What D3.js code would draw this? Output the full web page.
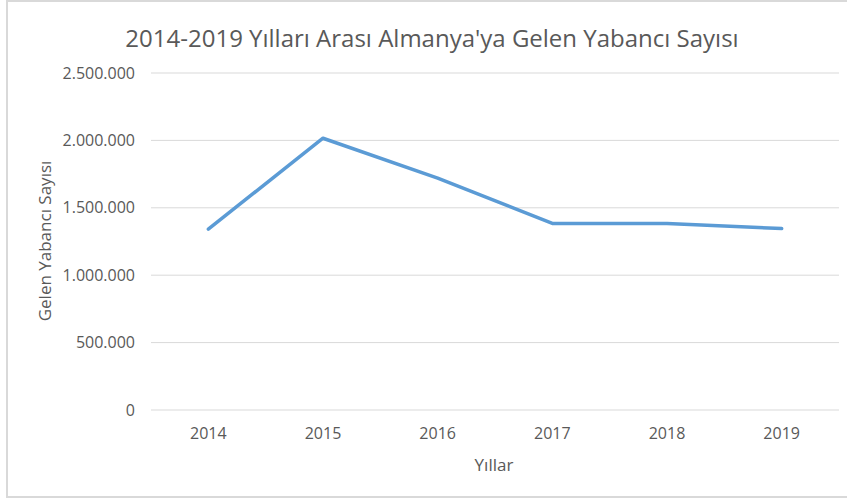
<!DOCTYPE html>
<head>
<meta charset="utf-8">
<style>
body{
    margin:0;
    background:#fff;
}
text{
    font-family:"Open Sans", sans-serif;
    fill:#595959;
}
</style>
<title>2014-2019 Yılları Arası Almanya'ya Gelen Yabancı Sayısı</title>
</head>

<body>
<svg width="847" height="502"></svg>
<script src="https://d3js.org/d3.v7.min.js"></script>
<script>
// data
var years = ['2014','2015','2016','2017','2018','2019'];
var arrivals = [1342000, 2016000, 1720000, 1384000, 1384000, 1346000];
var yTicks = [0, 500000, 1000000, 1500000, 2000000, 2500000];

var svg = d3.select("svg");
var m = {t:73, r:8, b:92, l:151};
var W = 847, H = 502;

// chart frame (left, top, bottom edges visible)
svg.append("rect").attr("x",7).attr("y",1).attr("width",W+10).attr("height",496)
    .attr("fill","none").attr("stroke","#d9d9d9").attr("stroke-width",2);

var x = d3.scaleBand().domain(years).range([m.l, W - m.r]);
var y = d3.scaleLinear().domain([0, 2500000]).range([H - m.b, m.t]);

var fmt = function(d){ return d3.format(",")(d).replace(/,/g, "."); };

// gridlines
svg.append("g").selectAll("line").data(yTicks).enter().append("line")
    .attr("x1", m.l).attr("x2", W - m.r)
    .attr("y1", function(d){ return y(d); }).attr("y2", function(d){ return y(d); })
    .attr("stroke", "#d9d9d9").attr("stroke-width", 1);

// y tick labels
svg.append("g").selectAll("text").data(yTicks).enter().append("text")
    .attr("x", 135).attr("y", function(d){ return y(d); })
    .attr("dy", "0.35em").attr("text-anchor", "end")
    .style("font-size", "16px")
    .text(fmt);

// x tick labels
svg.append("g").selectAll("text").data(years).enter().append("text")
    .attr("x", function(d){ return x(d) + x.bandwidth()/2; })
    .attr("y", 439).attr("text-anchor", "middle")
    .style("font-size", "16px")
    .text(function(d){ return d; });

// line
var line = d3.line()
    .x(function(d, i){ return x(years[i]) + x.bandwidth()/2; })
    .y(function(d){ return y(d); });

svg.append("path").datum(arrivals)
    .attr("d", line).attr("fill", "none")
    .attr("stroke", "#5b9bd5").attr("stroke-width", 3.5)
    .attr("stroke-linejoin", "round").attr("stroke-linecap", "round");

// titles
svg.append("text").attr("x", 432).attr("y", 47).attr("text-anchor", "middle")
    .style("font-size", "24px")
    .text("2014-2019 Yılları Arası Almanya'ya Gelen Yabancı Sayısı");

svg.append("text").attr("x", 494).attr("y", 471).attr("text-anchor", "middle")
    .style("font-size", "17px")
    .text("Yıllar");

svg.append("text").attr("transform", "translate(51,241) rotate(-90)")
    .attr("text-anchor", "middle")
    .style("font-size", "17px")
    .text("Gelen Yabancı Sayısı");
</script>
</body>
